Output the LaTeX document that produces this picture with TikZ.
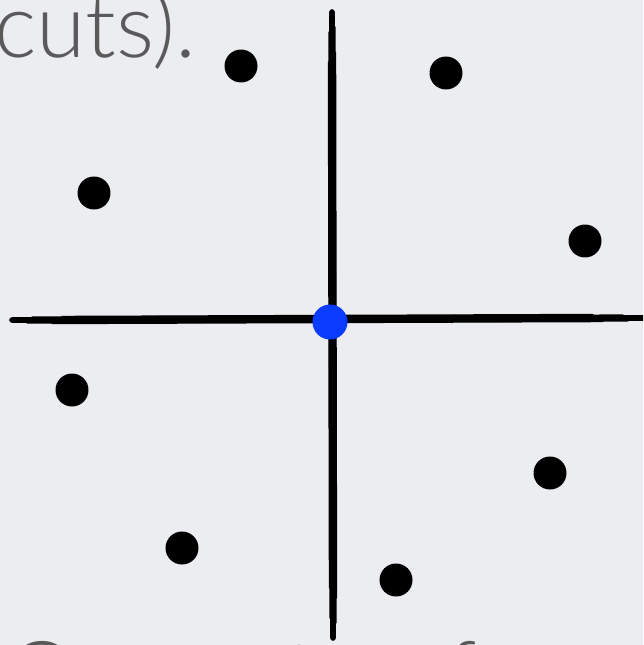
\documentclass[tikz,border=0pt]{standalone}
\usepackage{fontspec}
\setmainfont{Lato Light}
\usetikzlibrary{positioning,calc}
\definecolor{bggray}{HTML}{ECEDF0}
\definecolor{textgray}{HTML}{5A5A5A}
\definecolor{cutblue}{HTML}{0A3CFF}
\tikzset{
  pt/.style={circle,fill=black,inner sep=0pt,minimum size=0.66cm},
  centerpt/.style={circle,fill=cutblue,inner sep=0pt,minimum size=0.7cm},
  sketch/.style={black,line cap=round},
  bigtext/.style={font=\fontsize{51}{60}\selectfont,textgray,inner sep=0pt}
}
\begin{document}
\begin{tikzpicture}[x=0.02cm,y=-0.02cm]
\clip (0,0) rectangle (643,645);
\fill[bggray] (0,0) rectangle (643,645);

% text around the picture
\node[bigtext,anchor=base west] (top) at (-6,58) {cuts).};
\node[bigtext,anchor=base west] (bottom) at (6,705)
  {Compute {\color{cutblue}$C$} for};

% rough axes
\coordinate (vtop) at (332,12);
\coordinate (vbot) at (333,638);
\coordinate (hleft) at (12,320);
\coordinate (hright) at (643,318);
\foreach \d/\w/\s in {0/3.2/0,-2/1.8/20,2/1.8/15,-3.5/0.8/50,3.5/0.8/40,-1/1.2/70,1/1/90}{
  \draw[sketch,line width=\w pt] ($(vtop)+(\d,\s)$) -- ($(vbot)+(\d,-\s)$);
  \draw[sketch,line width=\w pt] ($(hleft)+(\s,\d)$) -- ($(hright)+(-\s,\d)$);
}

% points
\foreach \x/\y [count=\i] in {241/66,446/73,94/193,585/241,72/390,550/473,182/548,396/580}
  \node[pt] (p\i) at (\x,\y) {};
\node[centerpt] (c) at (330,322) {};
\end{tikzpicture}
\end{document}
